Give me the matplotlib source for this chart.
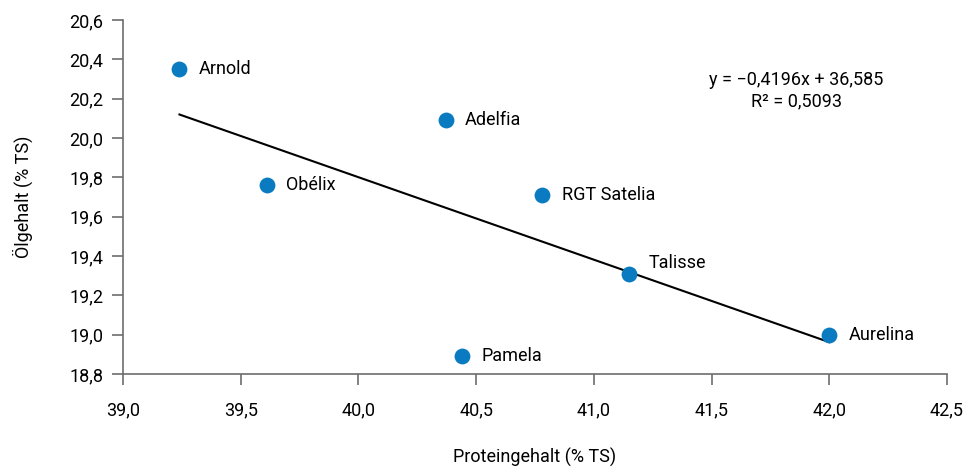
import matplotlib
matplotlib.use("Agg")
import matplotlib.pyplot as plt
from matplotlib.ticker import FuncFormatter, MultipleLocator
import numpy as np

plt.rcParams['font.family'] = ['Roboto', 'DejaVu Sans']

# Sorten: Proteingehalt und Ölgehalt (% TS)
sorten = ['Arnold', 'Obélix', 'Adelfia', 'RGT Satelia', 'Talisse', 'Aurelina', 'Pamela']
protein = [39.24, 39.61, 40.37, 40.78, 41.15, 42.00, 40.44]
oel = [20.35, 19.76, 20.09, 19.71, 19.31, 19.00, 18.89]
# Versatz der Beschriftungen (Punkte)
label_dy = [0, 0, 0, 0, 8, 0, 0]

# Trendlinie aus der Gleichung
slope = -0.4196
intercept = 36.585
r2 = 0.5093

blue = '#0a7bc0'
grey = '#6d6d6d'

fig = plt.figure(figsize=(9.63, 4.68), dpi=100)
ax = fig.add_axes([0.1277, 0.2009, 0.8557, 0.7561])

xs = np.array([min(protein), max(protein)])
ax.plot(xs, slope * xs + intercept, color='black', lw=1.5, zorder=2)
ax.scatter(protein, oel, s=130, color=blue, zorder=3, linewidths=0)

for name, x, y, dy in zip(sorten, protein, oel, label_dy):
    ax.annotate(name, (x, y), xytext=(14, dy), textcoords='offset points',
                va='center', ha='left', fontsize=13)

eq = 'y = \u22120,4196x + 36,585\nR\u00b2 = ' + f'{r2:.4f}'.replace('.', ',')
ax.text(0.817, 0.80, eq, transform=ax.transAxes, ha='center', va='center',
        fontsize=13, linespacing=1.2)

ax.set_xlim(39.0, 42.5)
ax.set_ylim(18.8, 20.6)
ax.xaxis.set_major_locator(MultipleLocator(0.5))
ax.yaxis.set_major_locator(MultipleLocator(0.2))
comma = FuncFormatter(lambda v, p: f'{v:.1f}'.replace('.', ','))
ax.xaxis.set_major_formatter(comma)
ax.yaxis.set_major_formatter(comma)

for side in ['top', 'right']:
    ax.spines[side].set_visible(False)
for side in ['left', 'bottom']:
    ax.spines[side].set_color(grey)
    ax.spines[side].set_linewidth(1.2)
ax.tick_params(axis='both', direction='out', length=8, width=1.2, color=grey,
               labelsize=13, pad=6)
ax.tick_params(axis='x', pad=12)

ax.set_xlabel('Proteingehalt (% TS)', fontsize=13, labelpad=20)
ax.set_ylabel('Ölgehalt (% TS)', fontsize=13, labelpad=26)

fig.savefig('out.png', dpi=100)
